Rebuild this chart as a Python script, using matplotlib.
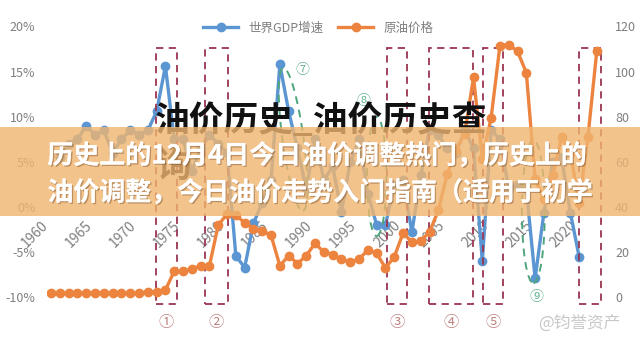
import matplotlib
matplotlib.use("Agg")
import matplotlib.pyplot as plt
import matplotlib.patheffects as pe
from matplotlib.patches import Rectangle, Ellipse
from matplotlib.lines import Line2D

plt.rcParams['font.family'] = ['Noto Sans CJK SC', 'DejaVu Sans']

# values
oil_years = list(range(1960, 2023))
oil_price = [1.8, 1.8, 1.8, 1.8, 1.8, 1.8, 1.8, 1.8, 1.8, 1.8,
             1.8, 2.2, 2.5, 3.3, 11.6, 11.5, 12.8, 13.9, 14.0, 32.0,
             37.0, 36.5, 33.0, 30.5, 29.5, 27.5, 14.0, 18.5, 15.0, 18.5,
             24.0, 20.0, 19.0, 17.0, 15.5, 17.0, 21.0, 19.5, 13.0, 18.0,
             28.5, 24.5, 25.0, 29.0, 38.5, 54.5, 65.0, 72.5, 97.5, 61.5,
             79.5, 111.5, 112.0, 109.0, 99.5, 52.5, 43.5, 54.0, 71.0, 64.0,
             42.0, 71.0, 109.0]

gdp_years = list(range(1961, 2021))
gdp_growth = [5.5, 7.0, 7.5, 9.0, 8.0, 8.5, 6.0, 7.5, 8.5, 8.0,
              8.5, 10.6, 15.6, 7.5, 7.5, 4.0, 6.5, 8.0, 7.0, 6.0,
              -5.4, -6.7, -1.8, 0.5, 3.0, 15.8, 10.6, 6.5, 2.0, 7.5,
              3.0, 4.5, -0.5, 5.0, 7.5, 1.5, -2.0, -2.0, 2.5, 3.0,
              -2.8, 3.5, 8.5, 8.0, 6.5, 6.0, 8.5, 6.5, -6.0, 8.5,
              7.5, 2.0, 2.5, 2.0, -7.9, -0.6, 5.0, 5.5, -0.6, -5.5]

year_ticks = [1960, 1965, 1970, 1975, 1980, 1985, 1990, 1995, 2000, 2005, 2010, 2015, 2020]
pct_ticks = [-10, -5, 0, 5, 10, 15, 20]
price_ticks = [0, 20, 40, 60, 80, 100, 120]

# hand drawn marks on the original chart
box_spans = [(1971.9, 1974.3), (1977.5, 1980.1), (1998.2, 2000.45),
             (2002.95, 2007.95), (2009.1, 2011.4), (2020.0, 2022.5)]
box_names = ['①', '②', '③', '④', '⑤', '']
ring_centers = [(1987.5, 7.5), (1997.0, 3.4), (2014.8, -0.5)]
ring_sizes = [(2.4, 16.0, 8), (2.2, 13.2, 0), (2.6, 15.8, 0)]
ring_names = ['⑦', '⑧', '⑨']
ring_label_pos = [(1988.6, 15.2), (1995.5, 11.7), (2015.2, -9.9)]

BLUE = '#5b96d2'
ORANGE = '#ec8440'
GREY = '#7f7f7f'


def draw_chart(fig):
    ax = fig.add_axes([0.0728, 0.0725, 0.8775, 0.890])
    ax2 = ax.twinx()

    ax.plot(gdp_years, gdp_growth, color=BLUE, lw=2.4, marker='o', ms=6, zorder=3)
    ax2.plot(oil_years, oil_price, color=ORANGE, lw=2.4, marker='o', ms=6, zorder=3)

    ax.set_xlim(1959.5, 2023.3)
    ax.set_ylim(-12.5, 21.5)
    ax2.set_ylim(-10, 126)

    # x labels sit on the zero line like the excel chart
    # (spine position resets the ticks, so do it first)
    ax.spines['bottom'].set_position(('data', 0))
    for a in (ax, ax2):
        for s in a.spines.values():
            s.set_visible(False)

    ax.set_yticks(pct_ticks)
    ax.set_yticklabels([f'{t}%' for t in pct_ticks])
    ax2.set_yticks(price_ticks)
    ax.set_xticks(year_ticks)
    ax.set_xticklabels([str(y) for y in year_ticks])
    ax.tick_params(axis='x', length=0, pad=8, labelsize=10, labelcolor=GREY,
                   labelrotation=45)
    plt.setp(ax.get_xticklabels(), ha='right')
    ax.tick_params(axis='y', length=0, pad=8, labelsize=9, labelcolor=GREY)
    ax2.tick_params(axis='y', length=0, pad=5, labelsize=9, labelcolor=GREY)

    # red dashed boxes and their numbers
    for (x0, x1), name in zip(box_spans, box_names):
        ax.add_patch(Rectangle((x0, -10.7), x1 - x0, 28.3, fill=False,
                               edgecolor='#9b3552', lw=1.3, ls=(0, (4, 3)),
                               clip_on=False, zorder=4))
        ax.text((x0 + x1) / 2, -12.8, name, ha='center', va='center',
                fontsize=11, color='#c08585', clip_on=False)

    # green dashed rings
    for (cx, cy), (w, h, ang), name, (lx, ly) in zip(ring_centers, ring_sizes,
                                                      ring_names, ring_label_pos):
        ax.add_patch(Ellipse((cx, cy), w, h, angle=ang, fill=False,
                             edgecolor='#4fa57c', lw=1.4, ls=(0, (4, 3)), zorder=4))
        ax.text(lx, ly, name, ha='center', va='center', fontsize=10,
                color='#6ab592')

    handles = [Line2D([], [], color=BLUE, lw=2.4, marker='o', ms=6),
               Line2D([], [], color=ORANGE, lw=2.4, marker='o', ms=6)]
    ax.legend(handles, ['世界GDP增速', '原油价格'], ncol=2, loc='center',
              bbox_to_anchor=(0.497, 0.919), bbox_transform=fig.transFigure,
              frameon=False, fontsize=9, handlelength=2.8, columnspacing=1.2,
              labelcolor=GREY)
    return ax


def draw_overlay(fig):
    # black title of the original picture
    fig.text(0.242, 1 - 120 / 345, '油价历史_油价历史查', fontsize=25,
             weight='heavy', color='#111111', ha='left', va='center', zorder=5)
    fig.text(0.245, 1 - 166 / 345, '询', fontsize=25, weight='heavy',
             color='#111111', ha='left', va='center', zorder=5)

    # translucent orange banner
    fig.patches.append(Rectangle((0, 1 - 216 / 345), 1, 89 / 345,
                                 transform=fig.transFigure,
                                 facecolor=(0.94, 0.71, 0.44), alpha=0.8,
                                 edgecolor='none', zorder=6))

    shadow = [pe.withSimplePatchShadow(offset=(1, -1), shadow_rgbFace='#6b4020',
                                       alpha=0.4), pe.Normal()]
    fig.text(0.074, 1 - 156 / 345, '历史上的12月4日今日油价调整热门，历史上的',
             fontsize=18.7, weight='bold', color='white', ha='left',
             va='center', zorder=7, path_effects=shadow)
    fig.text(0.074, 1 - 193 / 345, '油价调整，今日油价走势入门指南（适用于初学',
             fontsize=18.7, weight='bold', color='white', ha='left',
             va='center', zorder=7, path_effects=shadow)

    # watermark
    fig.text(0.905, 1 - 323 / 345, '@钧誉资产', fontsize=12, color='#c8c8c8',
             ha='center', va='center', zorder=7)


fig = plt.figure(figsize=(6.4, 3.45), dpi=100)
fig.patch.set_facecolor('white')
draw_chart(fig)
draw_overlay(fig)
fig.savefig('out.png', dpi=100)
